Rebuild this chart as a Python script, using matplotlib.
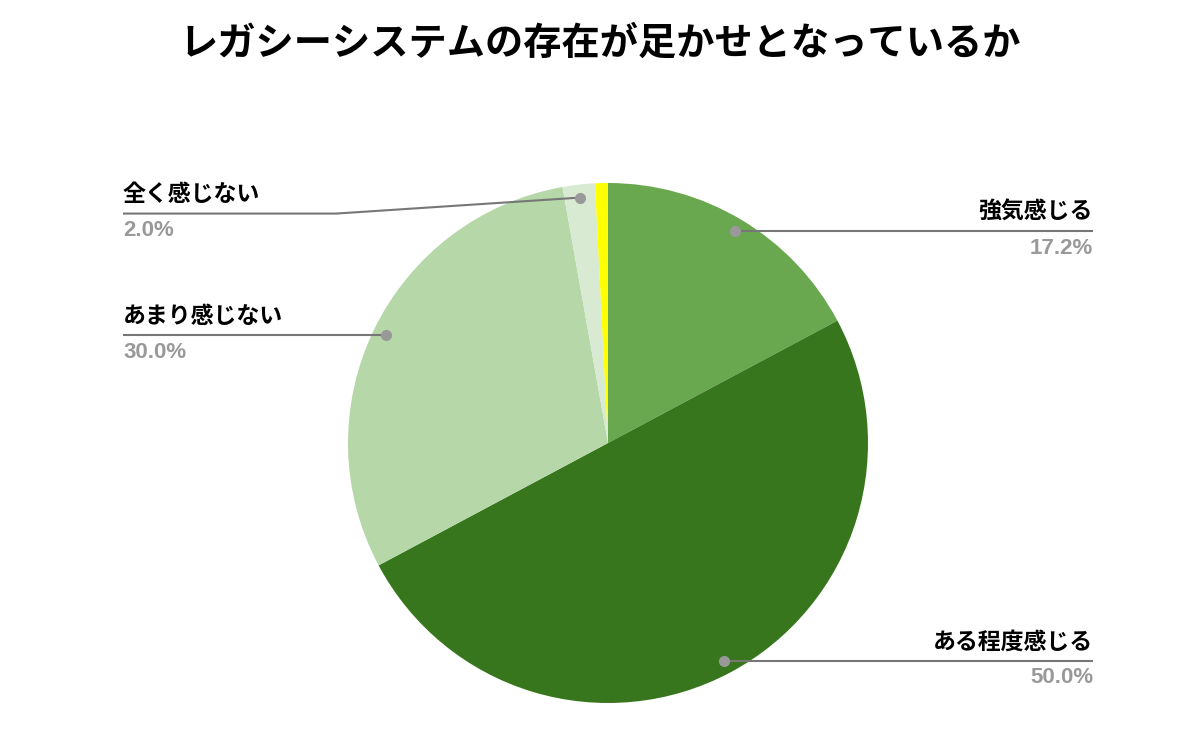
import numpy as np
import matplotlib
matplotlib.use("Agg")
import matplotlib.pyplot as plt

plt.rcParams['font.family'] = ['Noto Sans CJK JP', 'DejaVu Sans']

title = "レガシーシステムの存在が足かせとなっているか"
labels = ["強気感じる", "ある程度感じる", "あまり感じない", "全く感じない", "その他"]
values = [17.2, 50.0, 30.0, 2.0, 0.8]
show_label = [True, True, True, True, False]
colors = ["#6aa84f", "#38761d", "#b6d7a8", "#d9ead3", "#ffff00"]

W, H = 1200, 742
fig = plt.figure(figsize=(W / 100, H / 100), dpi=100)
ax = fig.add_axes([0, 0, 1, 1])

cx, cy, R = 608, H - 443, 260
wedges, _ = ax.pie(values, colors=colors, startangle=90, counterclock=False,
                   center=(cx, cy), radius=R, wedgeprops=dict(linewidth=0))

ax.set_xlim(0, W)
ax.set_ylim(0, H)
ax.set_aspect("equal")
ax.axis("off")

line_c = "#777777"
for w, lab, val, show in zip(wedges, labels, values, show_label):
    if not show:
        continue
    mid = np.deg2rad((w.theta1 + w.theta2) / 2)
    dx, dy = cx + 0.95 * R * np.cos(mid), cy + 0.95 * R * np.sin(mid)
    right = np.cos(mid) > 0
    x_end = 1093 if right else 123
    ly = dy
    if val < 5:
        ly = dy - 16
        xs = [dx, 336, x_end]
        ys = [dy, ly, ly]
    else:
        xs = [dx, x_end]
        ys = [dy, ly]
    ax.plot(xs, ys, color=line_c, lw=1.5, solid_capstyle="butt", zorder=3)
    ax.plot(dx, dy, "o", color="#999999", ms=7, zorder=4)
    ha = "right" if right else "left"
    ax.text(x_end, ly + 19, lab, ha=ha, va="center", fontsize=16.5,
            fontweight="bold", color="black")
    ax.text(x_end, ly - 17, f"{val:.1f}%", ha=ha, va="center", fontsize=16,
            family=["Liberation Sans", "DejaVu Sans"], fontweight="bold",
            color="#999999")

fig.text(0.5, 1 - 43 / H, title, ha="center", va="center", fontsize=27.5,
         fontweight="bold", color="black")

fig.savefig("out.png", dpi=100, facecolor="white")
